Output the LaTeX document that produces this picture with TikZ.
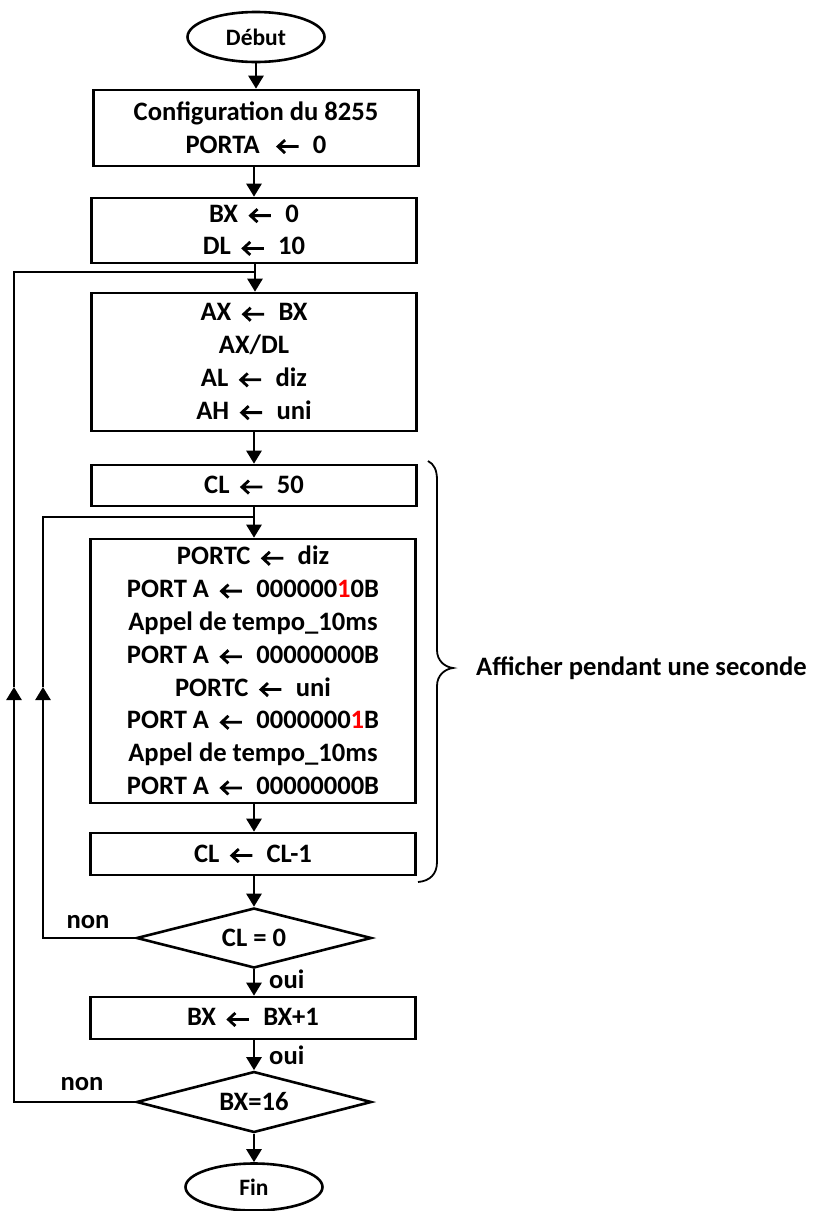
\documentclass[tikz,border=0pt]{standalone}
\usepackage{fontspec}
\setmainfont{Carlito}
\usepackage{xcolor}
\usetikzlibrary{shapes.geometric,arrows.meta,positioning}

\newcommand{\larr}{\hspace{11pt}\tikz[baseline=-6.5pt]\draw[line width=2.8pt, line join=miter, line cap=butt]
  (21pt,0pt) -- (1pt,0pt) (7.5pt,6.5pt) -- (0.5pt,0pt) -- (7.5pt,-6.5pt);\hspace{13pt}}

\tikzset{
  process/.style={draw, line width=2.6pt, rectangle, minimum width=325pt, inner sep=0pt,
    align=center, font=\fontsize{26.6}{32.8}\selectfont\bfseries},
  terminal/.style={draw, line width=2.6pt, ellipse, minimum width=137pt, inner sep=0pt,
    font=\fontsize{23.5}{27}\selectfont\bfseries},
  decision/.style={draw, line width=2.6pt, diamond, shape aspect=3.9, minimum width=235pt,
    minimum height=60pt, inner sep=0pt, font=\fontsize{26.6}{30}\selectfont\bfseries},
  label/.style={font=\fontsize{26.6}{30}\selectfont\bfseries, inner sep=0pt},
  flow/.style={line width=2.6pt, -{Triangle[width=15pt,length=13pt]}},
  link/.style={line width=2.6pt},
}

\begin{document}
\begin{tikzpicture}[x=1pt,y=1pt,yscale=-1]
\useasboundingbox (0,0) rectangle (816,1211);

%Flowchart: Terminator
\node[terminal, minimum height=50pt] (debut) at (256,37) {Début};
%Flowchart: Process
\node[process, minimum height=76pt] (config) at (256,128) {Configuration du 8255\\PORTA \larr 0};
%Flowchart: Process
\node[process, minimum height=65pt] (init) at (254,230.5) {BX\larr 0\\DL\larr 10};
%Flowchart: Process
\node[process, minimum height=138pt] (calc) at (254,362) {AX\larr BX\\AX/DL\\AL\larr diz\\AH\larr uni};
%Flowchart: Process
\node[process, minimum height=41pt] (setcl) at (254,485.5) {CL\larr 50};
%Flowchart: Process
\node[process, minimum height=264pt] (show) at (253,671) {PORTC\larr diz\\
  PORT A\larr 000000\textcolor{red}{1}0B\\
  Appel de tempo\_10ms\\
  PORT A\larr 00000000B\\
  PORTC\larr uni\\
  PORT A\larr 0000000\textcolor{red}{1}B\\
  Appel de tempo\_10ms\\
  PORT A\larr 00000000B};
%Flowchart: Process
\node[process, minimum height=42pt] (deccl) at (253,854) {CL\larr CL-1};
%Flowchart: Decision
\node[decision] (testcl) at (254,938) {CL = 0};
%Flowchart: Process
\node[process, minimum height=42pt] (incbx) at (253,1018) {BX\larr BX+1};
%Flowchart: Decision
\node[decision, minimum height=61pt] (testbx) at (254,1102) {BX=16};
%Flowchart: Terminator
\node[terminal, minimum height=47pt] (fin) at (254,1187) {Fin};

%Junctions of the loops
\coordinate (joinA) at (255,272);
\coordinate (joinB) at (254,517);
\coordinate (upA) at (14,687);
\coordinate (upB) at (43,687);

%Down Arrows
\draw[flow] (debut) -- (debut |- config.north);
\draw[flow] (config.south -| init) -- (init);
\draw[flow] (init.south -| joinA) -- (calc.north -| joinA);
\draw[flow] (calc) -- (setcl);
\draw[flow] (setcl) -- (show.north -| setcl);
\draw[flow] (show.south -| testcl) -- (deccl.north -| testcl);
\draw[flow] (deccl.south -| testcl) -- (testcl);
\draw[flow] (testcl) -- (incbx.north -| testcl);
\draw[flow] (incbx.south -| testbx) -- (testbx);
\draw[flow] (testbx) -- (fin);

%Loop on CL
\draw[flow] (testcl.west) -| (upB);
\draw[link] (upB) |- (joinB);
%Loop on BX
\draw[flow] (testbx.west) -| (upA);
\draw[link] (upA) |- (joinA);

%Right Brace
\draw[line width=1.8pt] (428,461) .. controls (434,464) and (437,470) .. (437,480) -- (437,650)
  .. controls (437,661) and (445,667) .. (453,668) .. controls (445,669) and (437,675) .. (437,686)
  -- (437,862) .. controls (437,874) and (430,881) .. (418,882);

% Text Node
\node[label] (non1) at (88,922) {non};
% Text Node
\node[label] (non2) at (82,1084) {non};
% Text Node
\node[label, anchor=west] (oui1) at (269,979) {oui};
% Text Node
\node[label, anchor=west] (oui2) at (269,1055) {oui};
% Text Node
\node[label, anchor=west] (second) at (476,668) {Afficher pendant une seconde};

\end{tikzpicture}
\end{document}
